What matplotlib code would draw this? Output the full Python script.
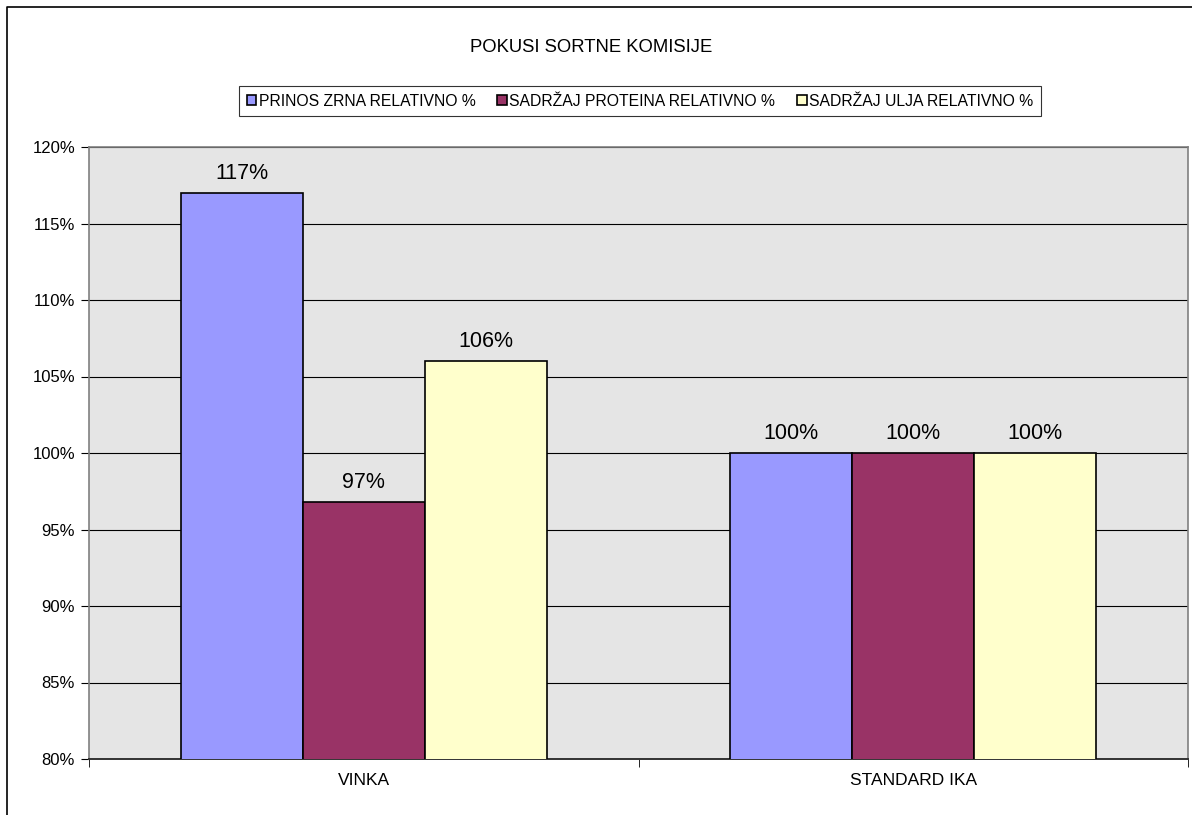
import numpy as np
import matplotlib
matplotlib.use("Agg")
import matplotlib.pyplot as plt
from matplotlib.lines import Line2D

plt.rcParams["font.family"] = ["Liberation Sans", "DejaVu Sans"]

categories = ["VINKA", "STANDARD IKA"]
series = ["PRINOS ZRNA RELATIVNO %", "SADRŽAJ PROTEINA RELATIVNO %",
          "SADRŽAJ ULJA RELATIVNO %"]
prinos = [117.0, 100.0]
proteini = [96.8, 100.0]
ulje = [106.0, 100.0]
colors = ["#9999FF", "#993366", "#FFFFCC"]

W, H = 1192, 815
fig = plt.figure(figsize=(W / 100, H / 100), dpi=100)
ax = fig.add_axes([89 / W, 56 / H, 1099 / W, 612 / H])
ax.set_facecolor("#E5E5E5")

x = np.arange(len(categories))
bw = 0.222
bars = []
for i, (vals, name) in enumerate(zip([prinos, proteini, ulje], series)):
    b = ax.bar(x + (i - 1) * bw, vals, bw, color=colors[i], edgecolor="black",
               linewidth=1.2, label=name, zorder=3)
    bars.append(b)
    for rect, v in zip(b, vals):
        ax.text(rect.get_x() + rect.get_width() / 2, v + 0.6, f"{v:.0f}%",
                ha="center", va="bottom", fontsize=15.5, zorder=4)

ax.set_ylim(80, 120)
ax.set_xlim(-0.5, 1.5)
ax.set_yticks(np.arange(80, 121, 5))
ax.set_yticklabels([f"{t}%" for t in range(80, 121, 5)], fontsize=12)
ax.yaxis.grid(True, color="black", linewidth=0.8, zorder=0)
ax.set_axisbelow(True)

ax.set_xticks(x)
ax.set_xticklabels(categories, fontsize=12.5)
ax.tick_params(axis="x", length=0, pad=10)
ax.set_xticks([-0.5, 0.5, 1.5], minor=True)
ax.tick_params(axis="x", which="minor", length=6, direction="out")
ax.tick_params(axis="y", length=6, direction="out", pad=4)

for s in ["top", "right", "left"]:
    ax.spines[s].set_color("#808080")
    ax.spines[s].set_linewidth(1.2)
ax.spines["bottom"].set_color("#333333")
ax.spines["bottom"].set_linewidth(1.4)

fig.text(591 / W, 1 - 47 / H, "POKUSI SORTNE KOMISIJE", ha="center",
         va="center", fontsize=13.3)

leg = fig.legend(handles=[b[0] for b in bars], labels=series, ncol=3,
                 loc="center", bbox_to_anchor=(640 / W, 1 - 101 / H),
                 fontsize=11.3, frameon=True, fancybox=False, edgecolor="black",
                 handlelength=0.6, handleheight=0.6, handletextpad=0.15,
                 columnspacing=1.4, borderpad=0.5, borderaxespad=0)
leg.get_frame().set_linewidth(0.8)

fig.add_artist(Line2D([7 / W, 7 / W, 1.0], [0.0, 1 - 7 / H, 1 - 7 / H],
                      transform=fig.transFigure, color="black", linewidth=1.2))

fig.savefig("out.png", dpi=100)
